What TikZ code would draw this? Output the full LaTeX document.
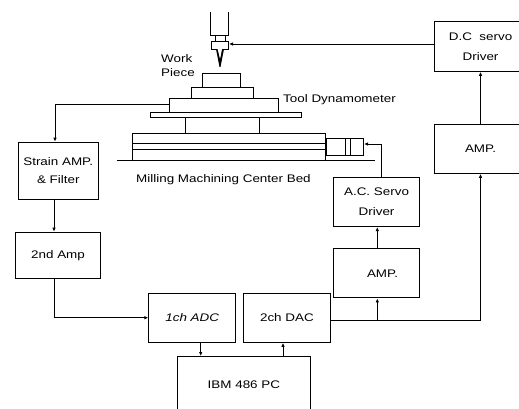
\documentclass[tikz,border=0pt]{standalone}
\usepackage{fontspec}
\setmainfont[FakeStretch=1.22]{Liberation Sans}
\usetikzlibrary{arrows.meta}
\tikzset{
  box/.style={draw=black,line width=1.1pt,fill=white,inner sep=0pt,align=center,font=\fontsize{11}{19}\selectfont},
  link/.style={draw=black,line width=1pt,-{Latex[length=4pt,width=3.5pt]}},
  plain/.style={draw=black,line width=1pt},
  part/.style={draw=black,line width=1pt,fill=white},
  lab/.style={inner sep=0pt,font=\fontsize{11}{14}\selectfont,align=left}
}
\newcommand{\pbox}[6]{\node[box,minimum width=#4pt-#2pt,minimum height=#5pt-#3pt,anchor=north west] (#1) at (#2,#3) {#6};}
\begin{document}
\begin{tikzpicture}[x=1pt,y=-1pt]
\useasboundingbox (0,0) rectangle (519,408);
\clip (0,0) rectangle (519,408);
% machine parts
\draw[plain] (210,12) -- (210,35) -- (228.7,35) -- (228.7,12);
\draw[plain] (215,35) -- (215,41) (225,35) -- (225,41);
\node[part,minimum width=17pt,minimum height=8pt,inner sep=0pt,anchor=north west] (holder) at (211,41) {};
\fill (216,49) -- (224,49) -- (220.5,67) -- (219.5,67) -- cycle;
\fill[white] (217.6,49) -- (222,49) -- (220.3,58) -- (219.8,58) -- cycle;
\draw[part] (202.3,87) -- (202.3,73) -- (240.7,73) -- (240.7,87);
\draw[part] (191.3,98) -- (191.3,87) -- (253.3,87) -- (253.3,98);
\node[part,minimum width=109pt,minimum height=14pt,inner sep=0pt,anchor=north west] (dyn) at (169,98) {};
\draw[part] (150,112) rectangle (301.7,117.5);
\draw[plain] (185,118) -- (185,134) (259,118) -- (259,134);
\draw[part] (132,160) -- (132,133.5) -- (325.7,133.5) -- (325.7,160);
\draw[plain,line width=0.7pt] (132,143) -- (325.7,143) (132,149) -- (325.7,149);
\draw[plain] (117,160) -- (375,160);
\node[part,minimum width=37.3pt,minimum height=17pt,inner sep=0pt,anchor=north west] (motor) at (325.7,138) {};
\draw[plain] (345,138) -- (345,155) (350,138) -- (350,155);
% labels
\node[lab,anchor=west] (wp) at (161,66) {Work\\Piece};
\node[lab,anchor=west] (td) at (283,100) {Tool Dynamometer};
\node[lab,anchor=west] (bed) at (136,180) {Milling Machining Center Bed};
% boxes
\pbox{dc}{434}{21}{526}{70.7}{D.C~~servo\\[1pt]Driver}
\pbox{ampr}{434}{124}{526}{172.7}{AMP.}
\pbox{ac}{332.7}{176.7}{419.3}{226}{A.C. Servo\\[1pt]Driver}
\pbox{ampl}{332.7}{248.3}{419.3}{297.3}{\hspace{12pt}AMP.}
\pbox{strain}{17.7}{141.7}{97.7}{199.3}{Strain AMP.\\[-1pt]\& Filter}
\pbox{second}{15}{231.7}{100}{278.3}{2nd Amp}
\pbox{adc}{148.3}{293.3}{235}{341.7}{\itshape 1ch ADC}
\pbox{dac}{242.7}{293.3}{330}{341.7}{2ch DAC}
\pbox{pc}{176.7}{356}{310}{412}{IBM 486 PC}
% connectors
\draw[link] (dc.west |- 0,44) -- (holder.east |- 0,44);
\draw[link] (ampr.north -| 480.5,0) -- (dc.south -| 480.5,0);
\draw[link] (dac.east |- 0,320) -- (480.5,320) -- (ampr.south -| 480.5,0);
\draw[link] (377.3,320) -- (ampl.south -| 377.3,0);
\draw[link] (ampl.north -| 377.3,0) -- (ac.south -| 377.3,0);
\draw[link] (ac.north -| 381,0) -- (381,144) -- (motor.east |- 0,144);
\draw[link] (dyn.west |- 0,104.5) -- (55,104.5) -- (strain.north -| 55,0);
\draw[link] (strain.south -| 54,0) -- (second.north -| 54,0);
\draw[plain] (second.south -| 54,0) -- (54,317.7);
\draw[link] (54,317.7) -- (adc.west |- 0,317.7);
\draw[link] (adc.south -| 200.7,0) -- (pc.north -| 200.7,0);
\draw[link] (pc.north -| 283,0) -- (dac.south -| 283,0);
\end{tikzpicture}
\end{document}
